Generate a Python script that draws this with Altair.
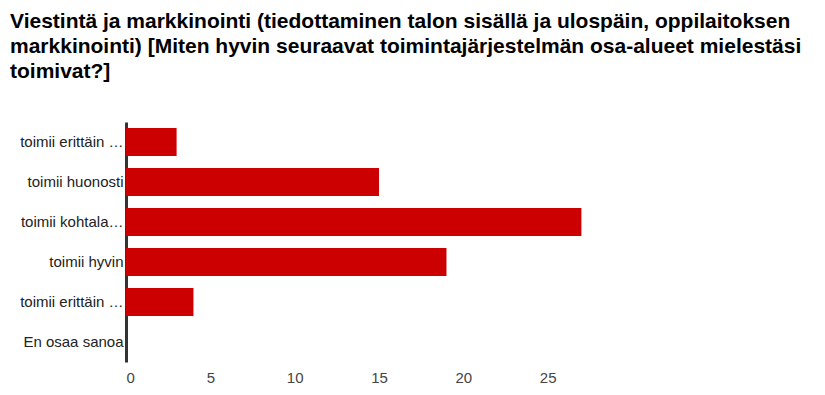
import altair as alt
import pandas as pd

categories = ["toimii erittäin huonosti", "toimii huonosti", "toimii kohtalaisesti",
              "toimii hyvin", "toimii erittäin hyvin", "En osaa sanoa"]
counts = [3, 15, 27, 19, 4, 0]
x_ticks = [0, 5, 10, 15, 20, 25]
title_lines = ["Viestintä ja markkinointi (tiedottaminen talon sisällä ja ulospäin, oppilaitoksen",
               "markkinointi) [Miten hyvin seuraavat toimintajärjestelmän osa-alueet mielestäsi",
               "toimivat?]"]

df = pd.DataFrame({"cat": categories, "n": counts})

chart = alt.Chart(df).mark_bar(color="#cc0000").encode(
    y=alt.Y("cat:N", sort=categories, title=None,
            scale=alt.Scale(paddingInner=0.3, paddingOuter=0.15),
            axis=alt.Axis(domainColor="#333333", domainWidth=3, ticks=False,
                          labelFont="Liberation Sans", labelFontSize=15,
                          labelColor="#222222", labelLimit=104, labelPadding=3)),
    x=alt.X("n:Q", title=None,
            scale=alt.Scale(domain=[0, 30], nice=False),
            axis=alt.Axis(values=x_ticks, grid=False, domain=False, ticks=False,
                          labelFont="Liberation Sans", labelFontSize=15,
                          labelColor="#444444", labelPadding=8)),
).properties(
    width=506, height=240,
    padding={"left": 118, "top": 114, "right": 185, "bottom": 30},
    autosize=alt.AutoSizeParams(type="none"),
    title=alt.TitleParams(title_lines, anchor="start", frame="group",
                          font="Liberation Sans", fontSize=21, fontWeight="bold",
                          color="#000000", lineHeight=25, baseline="top",
                          orient="top", offset=0, dx=-116, dy=-40),
).configure_view(stroke=None)

chart.save("out.html", embed_options={"renderer": "svg", "actions": False})
